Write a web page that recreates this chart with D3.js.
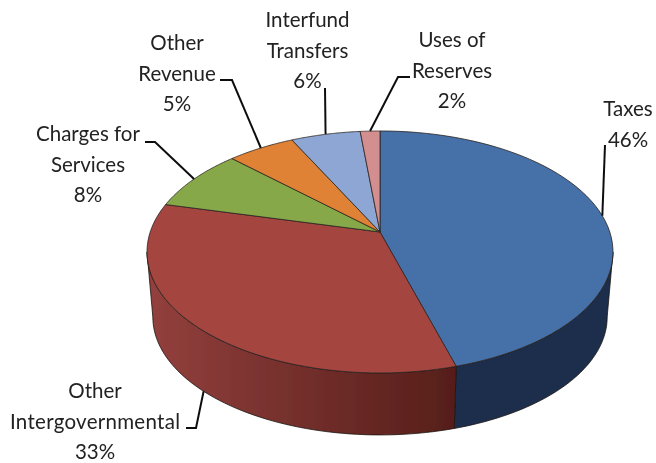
<!DOCTYPE html>
<html><head><meta charset="utf-8">
<script src="https://cdn.jsdelivr.net/npm/d3@7/dist/d3.min.js"></script>
<style>html,body{margin:0;background:#fff}svg{display:block}text{font-family:Lato,"Open Sans",sans-serif;font-size:20.5px;fill:#222}</style>
</head><body><div id="c"></div>
<script>
const categories=["Taxes","Other Intergovernmental","Charges for Services","Other Revenue","Interfund Transfers","Uses of Reserves"];
const shares=[45.5,33.4,8.35,5.5,5.65,1.6];
const percentLabels=["46%","33%","8%","5%","6%","2%"];
const labelLines=[["Taxes"],["Other","Intergovernmental"],["Charges for","Services"],["Other","Revenue"],["Interfund","Transfers"],["Uses of","Reserves"]];
const topColors=["#4570a8","#a54441","#87a84a","#e08236","#8da6d3","#d38f8f"];

const W=656,H=463;
const svg=d3.select("#c").append("svg").attr("width",W).attr("height",H);
const defs=svg.append("defs");
const grad=defs.append("linearGradient").attr("id","redSide").attr("gradientUnits","userSpaceOnUse").attr("x1",147).attr("x2",457).attr("y1",0).attr("y2",0);
[[0,"#93403d"],[.45,"#76302d"],[1,"#561e19"]].forEach(s=>grad.append("stop").attr("offset",s[0]).attr("stop-color",s[1]));
defs.append("filter").attr("id","soft").append("feGaussianBlur").attr("stdDeviation",0.45);
const root=svg.append("g").attr("filter","url(#soft)");

// perspective projection of the tilted disc
const cx=380,y0=232,f=229.8,g=117.7,k=0.165;
const project=(t,bottom)=>{
  const u=Math.sin(t),v=-Math.cos(t),w=1-k*v,s=bottom?0.975:1,yy=bottom?297.5:y0;
  return [cx+s*f*u/w,yy+s*g*v/w];
};
const pie=d3.pie().sort(null).value(d=>d);
const arcs=pie(shares);
const sample=(a,b,bottom)=>d3.range(0,61).map(i=>project(a+(b-a)*i/60,bottom));
const line=d3.line();
const silR=Math.acos(-k),silL=2*Math.PI-silR;

// side walls
const sides=[{a:silR,b:arcs[0].endAngle,fill:"#1b2e4b"},{a:arcs[0].endAngle,b:silL,fill:"url(#redSide)"}];
root.selectAll("path.side").data(sides).join("path").attr("class","side")
  .attr("d",d=>line(sample(d.a,d.b,false).concat(sample(d.a,d.b,true).reverse()))+"Z")
  .attr("fill",d=>d.fill).attr("stroke","#1a1410").attr("stroke-width",.8).attr("stroke-linejoin","round");

// top face
root.selectAll("path.top").data(arcs).join("path").attr("class","top")
  .attr("d",d=>line([[cx,y0]].concat(sample(d.startAngle,d.endAngle,false)))+"Z")
  .attr("fill",(d,i)=>topColors[i]).attr("stroke","#2a2320").attr("stroke-width",.8).attr("stroke-linejoin","round");

// leaders: start at each slice's mid rim point, then elbow and tail
const leaderBends=[[[605,145]],[[196,428],[186,428]],[[155,142],[145,142]],[[232,80],[220,80]],[[325,88]],[[398,77],[410,77]]];
const mid=arcs.map(d=>(d.startAngle+d.endAngle)/2);
root.selectAll("path.leader").data(leaderBends).join("path").attr("class","leader")
  .attr("d",(d,i)=>line([project(mid[i],i===1)].concat(d)))
  .attr("fill","none").attr("stroke","#111").attr("stroke-width",2);

// labels
const labelPos=[[628,116],[95,398],[88,141],[177,50],[307.5,27],[452,47]];
const lh=30.5;
const labels=root.selectAll("text.lab").data(categories).join("text").attr("class","lab").attr("text-anchor","middle");
labels.each(function(d,i){
  const t=d3.select(this);
  labelLines[i].concat(percentLabels[i]).forEach((s,j)=>{
    const sp=t.append("tspan").attr("x",labelPos[i][0]).attr("y",labelPos[i][1]+j*lh).text(s);
    if(s.length>12) sp.attr("textLength",170);
  });
});
</script></body></html>
